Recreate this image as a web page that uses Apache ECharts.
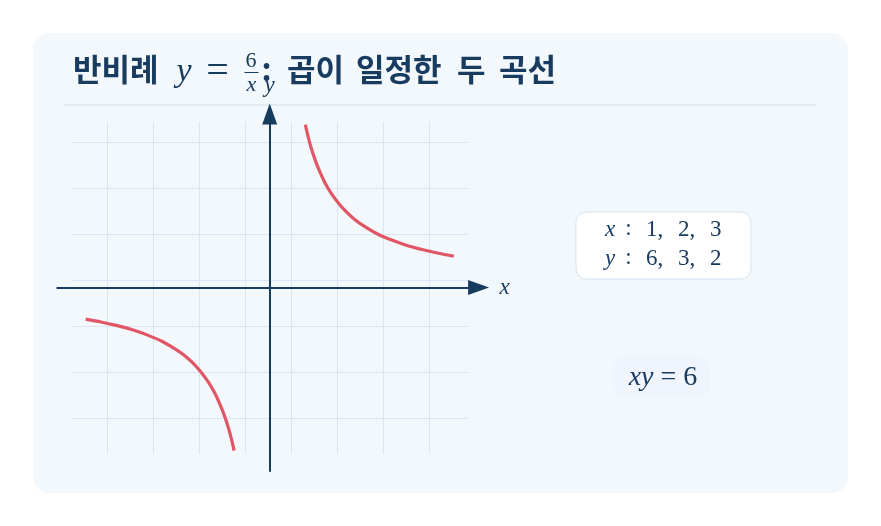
<html>

<head>
  <meta charset="utf-8">
  <title>반비례 y = 6/x</title>
  <style>
    body { margin: 0; background: #ffffff; }
  </style>
</head>

<body>
  <div id="chart" style="width: 881px;height:526px;"></div>
  <script src="https://cdn.jsdelivr.net/npm/echarts@6/dist/echarts.min.js"></script>
  <script>
    const rightX = [1.16, 1.25, 1.35, 1.5, 1.65, 1.8, 2, 2.25, 2.5, 2.75, 3, 3.5, 4, 4.5, 5, 5.5, 6];
    const rightY = [5.17, 4.8, 4.44, 4, 3.64, 3.33, 3, 2.67, 2.4, 2.18, 2, 1.71, 1.5, 1.33, 1.2, 1.09, 1];
    const leftX = [-6, -5.5, -5, -4.5, -4, -3.5, -3, -2.75, -2.5, -2.25, -2, -1.8, -1.65, -1.5, -1.35, -1.25, -1.16];
    const leftY = [-1, -1.09, -1.2, -1.33, -1.5, -1.71, -2, -2.18, -2.4, -2.67, -3, -3.33, -3.64, -4, -4.44, -4.8, -5.17];

    // decorative background grid: column and row counts
    const gridCols = 7;
    const gridRows = 6;

    // little table on the right
    const tableX = ['1', '2', '3'];
    const tableY = ['6', '3', '2'];

    // title words after the formula
    const titleWords = ['곱이', '일정한', '두', '곡선'];
    const titleWordX = [287, 356, 457, 499];

    const navy = '#183b60';
    const red = '#e05665';
    const gridColor = '#d9e5f1';
    const serif = '"Liberation Serif", "DejaVu Serif", serif';
    const kr = '"Noto Sans CJK KR", "Noto Sans", sans-serif';

    const chart = echarts.init(document.getElementById('chart'));

    function pairs(xs, ys) {
      return xs.map(function (x, i) { return [x, ys[i]]; });
    }

    const hidden = { show: false };

    const graphics = [
      {
        type: 'rect', z: -10, silent: true,
        shape: { x: 33, y: 33, width: 815, height: 460, r: 16 },
        style: { fill: '#f3f8fd' }
      },
      {
        type: 'line', z: -9, silent: true,
        shape: { x1: 64, y1: 105, x2: 816, y2: 105 },
        style: { stroke: '#d3e0ec', lineWidth: 1 }
      },
      {
        type: 'text', x: 73, y: 69,
        style: { text: '반비례', fill: navy, font: 'bold 31px ' + kr, verticalAlign: 'middle' }
      },
      {
        type: 'text', x: 184, y: 72,
        style: { text: 'y', fill: navy, font: 'italic 34px ' + serif, align: 'center', verticalAlign: 'middle' }
      },
      {
        type: 'text', x: 217.5, y: 72,
        style: { text: '=', fill: navy, font: '40px ' + serif, align: 'center', verticalAlign: 'middle' }
      },
      {
        type: 'text', x: 251, y: 61,
        style: { text: '6', fill: navy, font: '22px ' + serif, align: 'center', verticalAlign: 'middle' }
      },
      {
        type: 'line', silent: true,
        shape: { x1: 244.5, y1: 72.5, x2: 258.5, y2: 72.5 },
        style: { stroke: navy, lineWidth: 1 }
      },
      {
        type: 'text', x: 251.5, y: 85,
        style: { text: 'x', fill: navy, font: 'italic 22px ' + serif, align: 'center', verticalAlign: 'middle' }
      },
      {
        type: 'text', x: 266.5, y: 69,
        style: { text: ':', fill: navy, font: 'bold 31px ' + kr, align: 'center', verticalAlign: 'middle' }
      },
      {
        type: 'rect', silent: true,
        shape: { x: 576, y: 212, width: 175, height: 67, r: 10 },
        style: { fill: '#ffffff', stroke: '#d6e3f0', lineWidth: 1 }
      },
      {
        type: 'rect', silent: true,
        shape: { x: 613, y: 357, width: 97, height: 40, r: 10 },
        style: { fill: '#f0f5fd' }
      },
      {
        type: 'text', x: 663, y: 378,
        style: {
          text: '{i|xy} = 6', fill: navy, font: '28px ' + serif, align: 'center', verticalAlign: 'middle',
          rich: { i: { font: 'italic 28px ' + serif, fill: navy } }
        }
      }
    ];

    titleWords.forEach(function (w, i) {
      graphics.push({
        type: 'text', x: titleWordX[i], y: 69,
        style: { text: w, fill: navy, font: 'bold 31px ' + kr, verticalAlign: 'middle' }
      });
    });

    [['x', tableX, 229.5], ['y', tableY, 259]].forEach(function (row) {
      graphics.push({
        type: 'text', x: 610, y: row[2],
        style: { text: row[0], fill: navy, font: 'italic 23px ' + serif, align: 'center', verticalAlign: 'middle' }
      });
      graphics.push({
        type: 'text', x: 628.5, y: row[2] - 1,
        style: { text: ':', fill: navy, font: '23px ' + serif, align: 'center', verticalAlign: 'middle' }
      });
      row[1].forEach(function (v, i) {
        graphics.push({
          type: 'text', x: 646 + i * 32, y: row[2],
          style: {
            text: v + (i < row[1].length - 1 ? ',' : ''), fill: navy, font: '23px ' + serif,
            verticalAlign: 'middle'
          }
        });
      });
    });

    const option = {
      backgroundColor: '#ffffff',
      animation: false,
      graphic: graphics,
      grid: [
        { left: 107.7, top: 121.7, width: 322, height: 332.3 },
        { left: 71.7, top: 142.3, width: 396.6, height: 276 },
        { left: 57.3, top: 114, width: 421.3, height: 357 }
      ],
      xAxis: [
        {
          gridIndex: 0, type: 'value', min: 0, max: gridCols, interval: 1,
          axisLine: hidden, axisTick: hidden, axisLabel: hidden,
          splitLine: { show: true, lineStyle: { color: gridColor, width: 1 } }
        },
        {
          gridIndex: 1, type: 'value', min: 0, max: 1, show: false
        },
        {
          gridIndex: 2, type: 'value', min: -6.925, max: 6.81,
          axisTick: hidden, axisLabel: hidden, splitLine: hidden,
          axisLine: {
            show: true, onZero: true,
            symbol: ['none', 'triangle'], symbolSize: [15, 21],
            lineStyle: { color: navy, width: 2 }
          },
          name: 'x', nameLocation: 'end', nameGap: 21,
          nameTextStyle: { color: navy, fontFamily: serif, fontStyle: 'italic', fontSize: 23 }
        }
      ],
      yAxis: [
        {
          gridIndex: 0, type: 'value', min: 0, max: 1, show: false
        },
        {
          gridIndex: 1, type: 'value', min: 0, max: gridRows, interval: 1,
          axisLine: hidden, axisTick: hidden, axisLabel: hidden,
          splitLine: { show: true, lineStyle: { color: gridColor, width: 1 } }
        },
        {
          gridIndex: 2, type: 'value', min: -5.82, max: 5.51,
          axisTick: hidden, axisLabel: hidden, splitLine: hidden,
          axisLine: {
            show: true, onZero: true,
            symbol: ['none', 'triangle'], symbolSize: [15, 21],
            lineStyle: { color: navy, width: 2 }
          },
          name: 'y', nameLocation: 'end', nameGap: 17,
          nameTextStyle: { color: navy, fontFamily: serif, fontStyle: 'italic', fontSize: 23 }
        }
      ],
      series: [
        {
          name: 'x>0', type: 'line', xAxisIndex: 2, yAxisIndex: 2,
          data: pairs(rightX, rightY), smooth: 0.3,
          showSymbol: false, lineStyle: { color: red, width: 3.2 }
        },
        {
          name: 'x<0', type: 'line', xAxisIndex: 2, yAxisIndex: 2,
          data: pairs(leftX, leftY), smooth: 0.3,
          showSymbol: false, lineStyle: { color: red, width: 3.2 }
        }
      ]
    };

    chart.setOption(option, true);
  </script>
</body>

</html>
